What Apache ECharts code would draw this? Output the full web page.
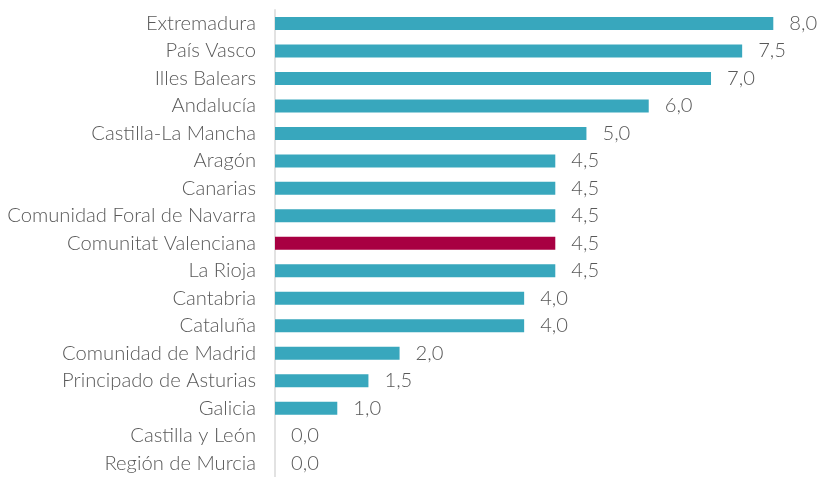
<!DOCTYPE html>
<html><head><meta charset="utf-8">
<script src="https://cdn.jsdelivr.net/npm/echarts@6/dist/echarts.min.js"></script>
<style>html,body{margin:0;padding:0;background:#fff}#c{width:817px;height:477px}</style>
</head><body><div id="c"></div>
<script>
const categories = ["Extremadura","País Vasco","Illes Balears","Andalucía","Castilla-La Mancha","Aragón","Canarias","Comunidad Foral de Navarra","Comunitat Valenciana","La Rioja","Cantabria","Cataluña","Comunidad de Madrid","Principado de Asturias","Galicia","Castilla y León","Región de Murcia"];
const values = [8.0,7.5,7.0,6.0,5.0,4.5,4.5,4.5,4.5,4.5,4.0,4.0,2.0,1.5,1.0,0.0,0.0];
const highlight = "Comunitat Valenciana";
const baseColor = "#38A7BD";
const highlightColor = "#A80042";
const FONT = "Lato";
const chart = echarts.init(document.getElementById('c'));
chart.setOption({
  animation:false,
  grid:{left:275, right:43.7, top:9.7, height:470.6, containLabel:false},
  xAxis:{type:'value', min:0, max:8, show:false, splitLine:{show:false}},
  yAxis:{type:'category', data:categories, inverse:true,
    axisLine:{show:true, lineStyle:{color:'#D9D9D9', width:1.5}},
    axisTick:{show:false},
    axisLabel:{margin:19, color:'#595959', fontFamily:FONT, fontSize:20.2, fontWeight:300, padding:[2,0,0,0]}},
  series:[{type:'bar', barWidth:13,
    data: values.map((v,i)=>({value:v, itemStyle:{color: categories[i]===highlight?highlightColor:baseColor}})),
    label:{show:true, position:'right', distance:16, color:'#595959', fontFamily:FONT, fontSize:20.2, fontWeight:300, padding:[3,0,0,0],
      formatter:p=>p.value.toFixed(1).replace('.',',')}}]
});
</script></body></html>
